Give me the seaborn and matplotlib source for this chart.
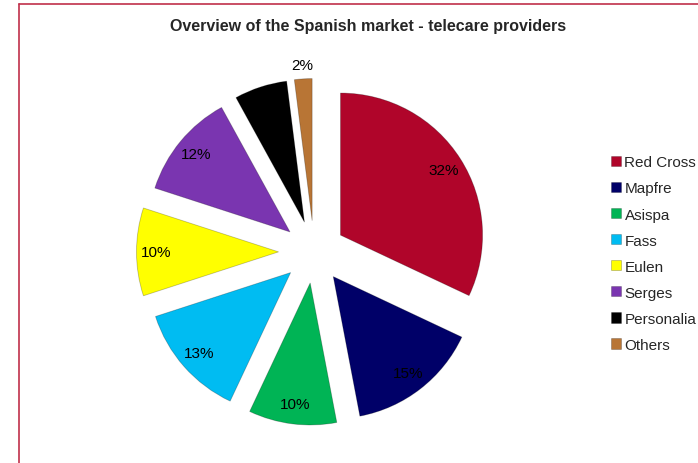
import matplotlib
matplotlib.use("Agg")
import matplotlib.pyplot as plt
import seaborn as sns
from matplotlib.lines import Line2D

providers = ["Red Cross", "Mapfre", "Asispa", "Fass", "Eulen", "Serges", "Personalia", "Others"]
shares = [32, 15, 10, 13, 10, 12, 6, 2]
colors = ["#b0052a", "#000068", "#00b455", "#00bcf2", "#ffff00", "#7a35b0", "#000000", "#b87535"]
title = "Overview of the Spanish market - telecare providers"

sns.set_theme(style="white")
plt.rcParams["font.family"] = ["Liberation Sans", "DejaVu Sans"]

fig = plt.figure(figsize=(6.98, 4.64), dpi=100)
ax = fig.add_axes([0.165, 0.026, 0.570, 0.858])

wedges, texts, autotexts = ax.pie(
    shares, colors=sns.color_palette(colors), startangle=90, counterclock=False,
    explode=[0.22, 0.22, 0.22, 0.22, 0.25, 0.22, 0.22, 0.22], autopct="%1.0f%%", pctdistance=0.86,
    wedgeprops=dict(linewidth=0.6, edgecolor="#00000040"),
    textprops=dict(fontsize=11, color="black"))
ax.set_xlim(-1.4, 1.4)
ax.set_ylim(-1.4, 1.4)
ax.set_aspect("equal")
ax.axis("off")

# the small "Others" label sits outside its slice
x, y = autotexts[-1].get_position()
autotexts[-1].set_position((x * 1.25, y * 1.22))

fig.text(0.527, 0.942, title, ha="center", va="center", fontsize=11.5, fontweight="bold")

fig.legend(wedges, providers, loc="upper left", bbox_to_anchor=(0.875, 0.663),
           frameon=False, fontsize=11, handlelength=0.65, handleheight=0.65,
           handletextpad=0.25, labelspacing=0.79, borderaxespad=0, borderpad=0)

frame_color = "#c0304a"
fig.add_artist(Line2D([18.5 / 698, 18.5 / 698], [0, 1 - 4.5 / 464], transform=fig.transFigure,
                      color=frame_color, linewidth=1.2))
fig.add_artist(Line2D([18.5 / 698, 1], [1 - 4.5 / 464, 1 - 4.5 / 464], transform=fig.transFigure,
                      color=frame_color, linewidth=1.2))

fig.savefig("out.png", dpi=100)
